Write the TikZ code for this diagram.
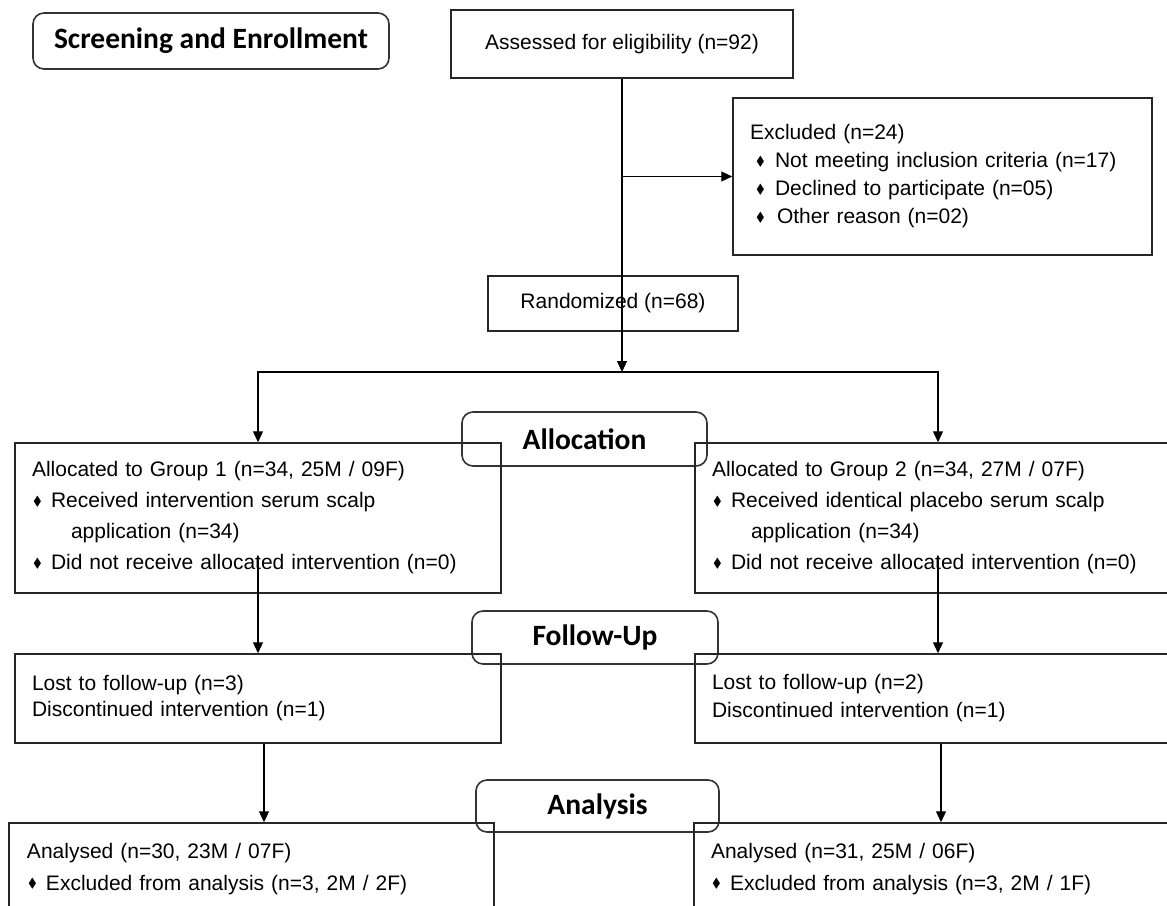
\documentclass[tikz,border=0pt]{standalone}
\usepackage{amssymb}
\usepackage{fontspec}
\setmainfont{Liberation Sans}
\newfontfamily\headfont{Carlito}
\usepackage{tikz}
\usetikzlibrary{arrows.meta, calc}
\newcommand{\bul}[1][19pt]{\makebox[#1][l]{\hspace{1pt}\raisebox{2.5pt}{\scalebox{0.62}{$\blacklozenge$}}}}
\newcommand{\bodyfont}[1]{\fontsize{21}{#1}\selectfont}
\tikzset{
    box/.style={rectangle, draw=black!85, line width=1.5pt, font=\bodyfont{26}, align=center},
    phase/.style={rectangle, draw=black!80, line width=1.6pt, rounded corners=11pt, font=\headfont\bfseries\fontsize{29.5}{31}\selectfont},
    arr/.style={line width=1.2pt, -{Triangle[length=11pt, width=10pt]}}
}
\begin{document}
\begin{tikzpicture}[
    x=1pt, y=-1pt,
    listbox/.style={box, align=left, inner xsep=17pt}
]
    \path[use as bounding box, clip] (0,0) rectangle (1167,905);

    % Phase labels
    \node (screen) [phase, minimum width=356pt, minimum height=56pt] at (211,41) {Screening and Enrollment};
    \node (alloc) [phase, minimum width=245pt, minimum height=54pt] at (584.5,439) {Allocation};
    \node (follow) [phase, minimum width=246pt, minimum height=53pt] at (595,637.5) {Follow-Up};
    \node (analysis) [phase, minimum width=243pt, minimum height=52pt] at (597.5,806) {Analysis};

    % Enrollment
    \node (assess) [box, minimum width=342pt, minimum height=68pt] at (622,44) {Assessed for eligibility (n=92)};
    \node (excl) [listbox, font=\bodyfont{28}, text width=385pt, minimum height=157pt] at (942.5,176.5) {Excluded (n=24)\\
        \hspace*{5pt}\bul[20pt]Not meeting inclusion criteria (n=17)\\
        \hspace*{5pt}\bul[20pt]Declined to participate (n=05)\\
        \hspace*{5pt}\bul[22pt]Other reason (n=02)};
    \node (rand) [box, minimum width=250pt, minimum height=55pt] at (613,303.5) {Randomized (n=68)};
    \coordinate (split) at (622,372);

    % Allocation
    \node (g1) [listbox, font=\bodyfont{31}, text width=452pt, minimum height=150pt] at (258,518) {Allocated to Group 1 (n=34, 25M / 09F)\\
        \bul Received intervention serum scalp\\
        \hspace*{39pt}application (n=34)\\
        \bul Did not receive allocated intervention (n=0)};
    \node (g2) [listbox, font=\bodyfont{31}, text width=452pt, minimum height=150pt] at (938,518) {Allocated to Group 2 (n=34, 27M / 07F)\\
        \bul Received identical placebo serum scalp\\
        \hspace*{39pt}application (n=34)\\
        \bul Did not receive allocated intervention (n=0)};

    % Follow-up
    \node (fu1) [listbox, font=\bodyfont{26}, text width=452pt, minimum height=89pt] at (258,698.5) {Lost to follow-up (n=3)\\
        Discontinued intervention (n=1)};
    \node (fu2) [listbox, font=\bodyfont{28}, text width=452pt, minimum height=89pt] at (938,698.5) {Lost to follow-up (n=2)\\
        Discontinued intervention (n=1)};

    % Analysis
    \node (an1) [listbox, font=\bodyfont{32}, text width=449pt, inner xsep=18pt, minimum height=92pt] at (251.5,869) {Analysed (n=30, 23M / 07F)\\
        \bul Excluded from analysis (n=3, 2M / 2F)};
    \node (an2) [listbox, font=\bodyfont{32}, text width=452pt, minimum height=92pt] at (937,869) {Analysed (n=31, 25M / 06F)\\
        \bul Excluded from analysis (n=3, 2M / 1F)};

    % Connectors
    \draw [arr] (assess) -- (split);
    \draw [arr] (assess.south |- excl.west) -- (excl.west);
    \draw [arr] (split) -| (g1);
    \draw [arr] (split) -| (g2);
    \draw [arr] ([yshift=38pt]g1.south) -- (fu1.north);
    \draw [arr] ([yshift=38pt]g2.south) -- (fu2.north);
    \draw [arr] ([xshift=6pt]fu1.south) -- ([xshift=6pt]fu1.south |- an1.north);
    \draw [arr] ([xshift=3pt]fu2.south) -- ([xshift=3pt]fu2.south |- an2.north);

\end{tikzpicture}
\end{document}
